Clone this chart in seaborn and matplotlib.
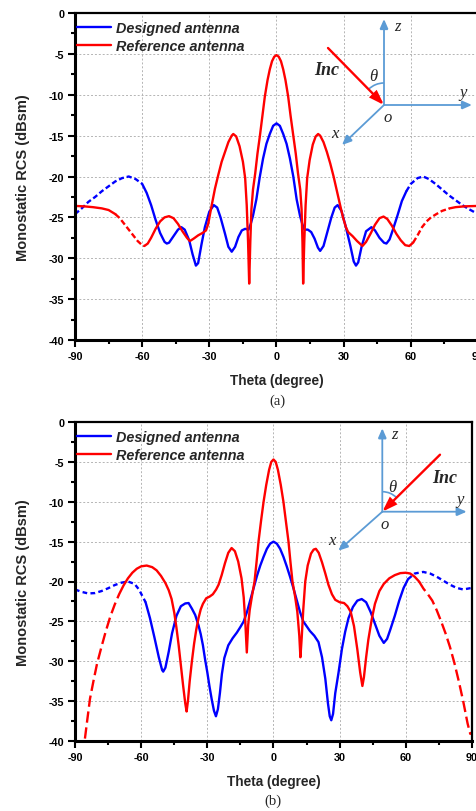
import numpy as np
import pandas as pd
import matplotlib
matplotlib.use("Agg")
import matplotlib.pyplot as plt
import matplotlib.transforms as mtransforms
from matplotlib.patches import Arc, FancyArrowPatch
from matplotlib.lines import Line2D
from matplotlib.ticker import MultipleLocator
from matplotlib.font_manager import FontProperties
import seaborn as sns

# ---------------- data ----------------
SERIES = ["Designed antenna", "Reference antenna"]
X_TICKS = [-90, -60, -30, 0, 30, 60, 90]
Y_TICKS = [0, -5, -10, -15, -20, -25, -30, -35, -40]
PANEL_TAGS = ["(a)", "(b)"]
XLABEL = "Theta (degree)"
YLABEL = "Monostatic RCS (dBsm)"

# panel (a) designed antenna
THETA_DES_A = [-90, -87, -84, -81, -78, -75, -72, -69, -66, -63, -60, -58, -56, -54, -52, -50, -49, -48, -46, -44,
               -42.5, -41, -39, -37.5, -36, -35, -33.5, -32, -30, -28, -26.5, -25, -23, -21.5, -20, -18.5, -17,
               -15.5, -14, -12.5, -11.5, -10.5, -9, -7.5, -6, -4.5, -3, -1.5, 0, 1.5, 3, 4.5, 6, 7.5, 9, 10.5,
               11.5, 12.5, 14, 15.5, 17, 18.5, 19.5, 21, 22.5, 24.5, 26, 27.3, 29, 31, 33, 34.5, 35.5, 36.5, 38,
               40, 42.4, 44, 46, 48, 49.1, 50.5, 52, 54, 56, 58, 60, 63, 65.5, 68, 71, 74, 77, 80, 83, 86, 90]
RCS_DES_A = [-24.6, -23.9, -23.1, -22.5, -21.8, -21.2, -20.6, -20.2, -20.0, -20.3, -20.9, -22.0, -23.5, -25.3,
             -26.9, -28.0, -28.2, -28.1, -27.3, -26.5, -26.2, -26.5, -27.8, -29.5, -30.9, -30.6, -28.3, -26.2,
             -24.3, -23.5, -23.8, -25.0, -27.0, -28.6, -29.2, -28.6, -27.4, -26.6, -26.4, -26.5, -25.8, -24.8,
             -22.8, -20.1, -17.8, -16.0, -14.8, -13.8, -13.5, -13.8, -14.8, -16.0, -17.8, -20.0, -22.8, -24.8,
             -25.8, -26.5, -26.5, -26.8, -27.6, -28.7, -29.1, -28.5, -27.0, -25.0, -23.8, -23.5, -24.2, -26.2,
             -28.5, -30.4, -30.9, -30.5, -28.6, -26.7, -26.2, -26.6, -27.5, -28.1, -28.2, -27.7, -26.5, -24.8,
             -23.0, -21.8, -20.9, -20.2, -20.0, -20.3, -20.9, -21.6, -22.3, -22.9, -23.5, -24.0, -24.6]
DASH_DES_A = [(-90, -60), (58, 90)]

# panel (a) reference antenna
THETA_REF_A = [-90, -86, -82, -78, -75, -72, -70, -68, -66, -64, -62, -60, -59, -57.5, -56, -54, -52, -50, -48,
               -46, -44, -42, -40, -38.7, -37, -35, -33, -31.5, -30.5, -29, -27.5, -26, -24.5, -23, -21.5, -20,
               -19.3, -18, -16.5, -15, -14, -13.3, -12.7, -12.2, -11.7, -11.2, -10.5, -9.5, -8.5, -7.4, -6.3,
               -5.2, -4, -3, -2, -1, 0, 1, 2, 3, 4, 5.2, 6.3, 7.5, 8.6, 9.6, 10.6, 11.2, 11.6, 11.9, 12.4, 13.0,
               13.7, 14.8, 16.2, 17.5, 18.6, 19.5, 21, 22.5, 24, 25.5, 27, 28.5, 29.7, 31, 32, 34, 36, 38.4, 40,
               42, 44, 46, 47.8, 49.5, 51.5, 53.5, 55.5, 57.5, 59.3, 61, 63, 65, 67, 69, 71.4, 74, 77.3, 80, 84, 90]
RCS_REF_A = [-23.6, -23.65, -23.75, -23.9, -24.1, -24.6, -25.1, -25.8, -26.5, -27.2, -27.9, -28.4, -28.5, -28.2,
             -27.5, -26.4, -25.5, -25.0, -24.85, -25.1, -25.8, -26.7, -27.5, -27.9, -27.6, -27.2, -26.9, -26.6,
             -25.8, -23.6, -21.5, -19.8, -18.2, -17.0, -15.8, -15.0, -14.8, -15.1, -16.3, -18.2, -20.2, -23.5,
             -28.0, -33.1, -28.0, -24.0, -21.6, -19.6, -17.2, -15.0, -12.6, -10.2, -8.2, -6.9, -5.9, -5.35, -5.15,
             -5.35, -5.9, -6.9, -8.2, -10.2, -12.6, -15.0, -17.2, -19.6, -21.6, -24.0, -28.0, -33.1, -28.0, -23.5,
             -20.2, -18.0, -16.1, -15.1, -14.8, -15.0, -15.8, -17.0, -18.4, -20.0, -21.8, -23.6, -25.0, -26.2,
             -26.8, -27.3, -27.9, -28.5, -28.0, -27.0, -25.9, -25.1, -24.9, -25.2, -26.0, -27.0, -27.8, -28.4,
             -28.5, -28.1, -27.2, -26.2, -25.5, -25.0, -24.6, -24.2, -23.9, -23.75, -23.65, -23.6]
DASH_REF_A = [(-72, -59), (61, 77.3)]

# panel (b) designed antenna
THETA_DES_B = [-90, -87, -84, -81, -78, -75, -72, -69, -66, -63, -61, -59.5, -58, -56, -54, -52, -50.5, -50, -49,
               -47.5, -46, -44, -42, -40, -38.5, -37, -35.5, -34, -33, -32, -31, -30, -29, -28, -27, -26.1, -25.2,
               -24.3, -23.4, -22.3, -20.5, -18.5, -16.6, -15, -13.5, -12, -10.5, -9, -7.5, -6, -4.5, -3, -1.5, 0,
               1.5, 3, 4.5, 6, 7.5, 9, 10.5, 12, 13.5, 15, 16.5, 18.5, 20.4, 22, 23.5, 24.7, 25.5, 26.2, 27, 28,
               29.5, 31, 32.5, 34, 36, 38, 40, 42, 44, 46, 48, 50, 51.5, 53, 55, 57, 59, 61, 64, 67.9, 71, 74, 77,
               80, 83, 86, 88, 90]
RCS_DES_B = [-21.0, -21.3, -21.5, -21.45, -21.2, -20.85, -20.45, -20.15, -20.0, -20.3, -21.0, -21.8, -22.6, -24.6,
             -27.0, -29.5, -31.1, -31.3, -30.8, -28.8, -26.5, -24.3, -23.1, -22.75, -22.7, -23.4, -24.2, -25.5,
             -26.6, -28.0, -29.8, -31.4, -33.2, -34.8, -36.2, -36.9, -36.0, -34.0, -31.6, -29.6, -28.0, -27.1,
             -26.4, -25.7, -25.0, -23.8, -22.3, -20.8, -19.3, -18.0, -16.9, -15.9, -15.25, -15.0, -15.25, -15.9,
             -16.9, -18.1, -19.4, -20.8, -22.3, -23.8, -25.0, -25.6, -26.2, -26.8, -27.6, -29.5, -32.2, -35.3,
             -36.9, -37.4, -36.6, -34.0, -31.4, -28.5, -26.3, -24.6, -23.2, -22.4, -22.2, -22.6, -23.8, -25.3,
             -26.8, -27.7, -27.2, -26.0, -24.3, -22.4, -20.8, -19.7, -19.0, -18.8, -19.0, -19.4, -19.9, -20.4,
             -20.8, -21.0, -20.9, -20.8]
DASH_DES_B = [(-90, -58), (61, 90)]

# panel (b) reference antenna
THETA_REF_B = [-85.5, -84.5, -83.2, -81.5, -80, -78, -76, -74, -72, -70, -68, -66, -64, -62, -60, -57.5, -55, -53,
               -51, -49, -47.5, -46.2, -45, -44, -43, -42, -41, -40, -39.4, -38.8, -38, -37, -36, -35, -34, -33,
               -32, -30.5, -29, -27.5, -26, -24.9, -23.5, -22, -20.5, -19, -17.5, -16, -14.5, -13.5, -12.8, -12.1,
               -11.5, -10.8, -9.8, -8.6, -7.7, -6.8, -5.6, -4.5, -3.3, -2, -1, 0, 1, 2, 3.3, 4.5, 5.6, 6.8, 7.7,
               8.6, 9.8, 10.8, 11.7, 12.2, 12.8, 13.5, 14.4, 15.5, 17, 18.2, 19.2, 20.5, 22, 23.5, 24.9, 26.5, 28,
               30, 32, 33.5, 35, 36.5, 38, 39.3, 40.3, 41, 42, 43, 44.5, 46, 48, 50, 52.5, 55, 57.5, 60, 62, 64,
               66, 68, 70, 72, 74, 76, 78, 80, 82, 84, 86, 88, 89.2, 90]
RCS_REF_B = [-39.7, -37.5, -34.7, -32.3, -30.3, -28.2, -26.2, -24.4, -22.9, -21.6, -20.5, -19.6, -18.9, -18.4,
             -18.1, -18.0, -18.2, -18.6, -19.3, -20.2, -21.1, -22.2, -23.9, -25.8, -28.0, -30.5, -33.0, -35.3,
             -36.3, -35.0, -32.5, -30.0, -27.8, -26.0, -24.6, -23.5, -22.8, -22.1, -21.9, -21.6, -21.0, -20.4,
             -19.2, -17.7, -16.4, -15.8, -16.2, -17.5, -19.6, -22.0, -25.0, -28.9, -25.5, -23.6, -21.9, -20.0,
             -17.6, -15.0, -12.3, -10.0, -7.9, -6.0, -5.0, -4.7, -5.0, -6.0, -7.9, -10.0, -12.4, -15.0, -17.6,
             -20.0, -21.9, -23.8, -26.8, -29.5, -27.0, -23.5, -20.0, -18.0, -16.5, -16.0, -15.9, -16.4, -17.6,
             -19.0, -20.4, -21.6, -22.3, -22.6, -22.7, -23.1, -23.8, -25.6, -28.5, -31.4, -33.1, -32.0, -29.5,
             -27.3, -24.8, -22.8, -21.2, -20.3, -19.6, -19.2, -18.95, -18.9, -19.0, -19.4, -20.0, -20.9, -21.6,
             -22.4, -23.6, -25.0, -26.5, -28.2, -30.2, -32.5, -35.0, -37.8, -39.1, -38.9]
DASH_REF_B = [(-90, -70), (66, 90)]

# ---------------- style ----------------
sns.set_style("white")
plt.rcParams["font.family"] = ["Liberation Sans", "DejaVu Sans"]
plt.rcParams["axes.unicode_minus"] = False

W, H = 477, 812
BLUE = "#0000ff"
RED = "#ff0000"
DIAG = "#5b9bd5"
LW = 1.7

fig = plt.figure(figsize=(W / 100, H / 100), dpi=100)
ax_a = fig.add_axes([75 / W, 1 - 341 / H, 403 / W, 327 / H])
ax_b = fig.add_axes([75 / W, 1 - 742 / H, 397 / W, 319 / H])
PX = mtransforms.Affine2D().scale(1 / W, -1 / H).translate(0, 1) + fig.transFigure


def split_segments(theta, rcs, dash_ranges):
    df = pd.DataFrame({"theta": theta, "rcs": rcs})
    cuts = sorted(set([df.theta.iloc[0], df.theta.iloc[-1]] +
                      [b for r in dash_ranges for b in r
                       if df.theta.iloc[0] < b < df.theta.iloc[-1]]))
    segs = []
    for a, b in zip(cuts[:-1], cuts[1:]):
        sub = df[(df.theta >= a) & (df.theta <= b)]
        dashed = any(lo <= a and b <= hi for lo, hi in dash_ranges)
        segs.append((sub, dashed))
    return segs


def draw_series(ax, theta, rcs, dash_ranges, color, dash):
    for sub, dashed in split_segments(theta, rcs, dash_ranges):
        ls = (0, dash) if dashed else "-"
        sns.lineplot(data=sub, x="theta", y="rcs", ax=ax, color=color, linewidth=LW,
                     linestyle=ls, sort=False, estimator=None, legend=False)


def style_axes(ax, ylab_x, xlab_y):
    ax.set_xlim(-90, 90)
    ax.set_ylim(-40, 0)
    ax.set_xticks(X_TICKS)
    ax.set_yticks(Y_TICKS)
    ax.set_xticklabels([str(t) for t in X_TICKS], fontweight="bold")
    ax.set_yticklabels([str(t) for t in Y_TICKS], fontweight="bold")
    ax.xaxis.set_minor_locator(MultipleLocator(15))
    ax.yaxis.set_minor_locator(MultipleLocator(2.5))
    ax.tick_params(which="both", direction="out", top=False, right=False, bottom=True, left=True,
                   width=1.5, labelsize=7.8, pad=2.5, colors="black")
    ax.tick_params(which="major", length=5.3)
    ax.tick_params(which="minor", length=3)
    ax.grid(True, which="major", color="#b4b4b4", linestyle=(0, (2, 2)), linewidth=0.7)
    ax.set_axisbelow(True)
    for side in ["left", "bottom"]:
        ax.spines[side].set_linewidth(2.2)
    for side in ["top", "right"]:
        ax.spines[side].set_linewidth(1.6)
    for s in ax.spines.values():
        s.set_color("black")
        s.set_visible(True)
    ax.set_xlabel(XLABEL, fontsize=9.8, fontweight="bold")
    ax.set_ylabel(YLABEL, fontsize=10.5, fontweight="bold")
    ax.yaxis.set_label_coords(ylab_x, 0.5)
    ax.xaxis.set_label_coords(0.5, xlab_y)
    handles = [Line2D([], [], color=BLUE, lw=LW), Line2D([], [], color=RED, lw=LW)]
    ax.legend(handles, SERIES, loc="upper left", bbox_to_anchor=(0, 0.98), frameon=False,
              prop=FontProperties(family="Liberation Sans", weight="bold", style="italic", size=10.4),
              handlelength=2.35, handletextpad=0.4, labelspacing=0.25, borderaxespad=0, borderpad=0.12)


draw_series(ax_a, THETA_DES_A, RCS_DES_A, DASH_DES_A, BLUE, (2.2, 1.2))
draw_series(ax_a, THETA_REF_A, RCS_REF_A, DASH_REF_A, RED, (2.4, 1.2))
draw_series(ax_b, THETA_DES_B, RCS_DES_B, DASH_DES_B, BLUE, (2.0, 1.4))
draw_series(ax_b, THETA_REF_B, RCS_REF_B, DASH_REF_B, RED, (4.8, 2.0))

style_axes(ax_a, -0.112, -0.101)
style_axes(ax_b, -0.113, -0.103)

fig.text(277, 401, PANEL_TAGS[0], transform=PX, ha="center", va="center", fontsize=10.5, family="Liberation Serif")
fig.text(273, 801, PANEL_TAGS[1], transform=PX, ha="center", va="center", fontsize=10.5, family="Liberation Serif")


# ---------------- coordinate sketches ----------------
def arrow(p0, p1, color, lw, ms, hw):
    fig.add_artist(FancyArrowPatch(p0, p1, transform=PX, color=color, lw=lw, mutation_scale=ms,
                                   arrowstyle=f"-|>,head_length=0.5,head_width={hw}",
                                   shrinkA=0, shrinkB=0, joinstyle="miter"))


def sketch(o, zend, yend, xend, inc0, r, t1, t2, labels):
    arrow(o, zend, DIAG, 1.3, 11.5, 0.22)
    arrow(o, yend, DIAG, 1.3, 11.5, 0.22)
    arrow(o, xend, DIAG, 1.3, 11.5, 0.22)
    fig.add_artist(Arc(o, 2 * r, 2 * r, theta1=t1, theta2=t2, transform=PX, color=DIAG, lw=1.2))
    arrow(inc0, o, RED, 1.7, 16, 0.17)
    for s, (x, y) in labels.items():
        if s == "Inc":
            fig.text(x, y, s, transform=PX, ha="center", va="baseline", fontsize=13,
                     family="Liberation Serif", style="italic", weight="bold")
        else:
            fig.text(x, y, s, transform=PX, ha="center", va="baseline", fontsize=12,
                     family="Liberation Serif", style="italic")


sketch((384, 106), (384, 20), (472, 106), (342, 146), (328, 49), 22, 225.5, 270,
       {"z": (397, 30.7), "y": (463, 97.3), "x": (335, 138.3), "o": (388, 122),
        "θ": (373, 81), "Inc": (327, 75)})
sketch((382.3, 512.7), (382.3, 429.3), (466.7, 512.7), (338.3, 551.7), (440, 455.7), 20, 270, 315.3,
       {"z": (394, 439.3), "y": (460, 504), "x": (331.7, 545), "o": (384.3, 529),
        "θ": (392.7, 491.7), "Inc": (445, 483.3)})

fig.savefig("out.png", dpi=100)
